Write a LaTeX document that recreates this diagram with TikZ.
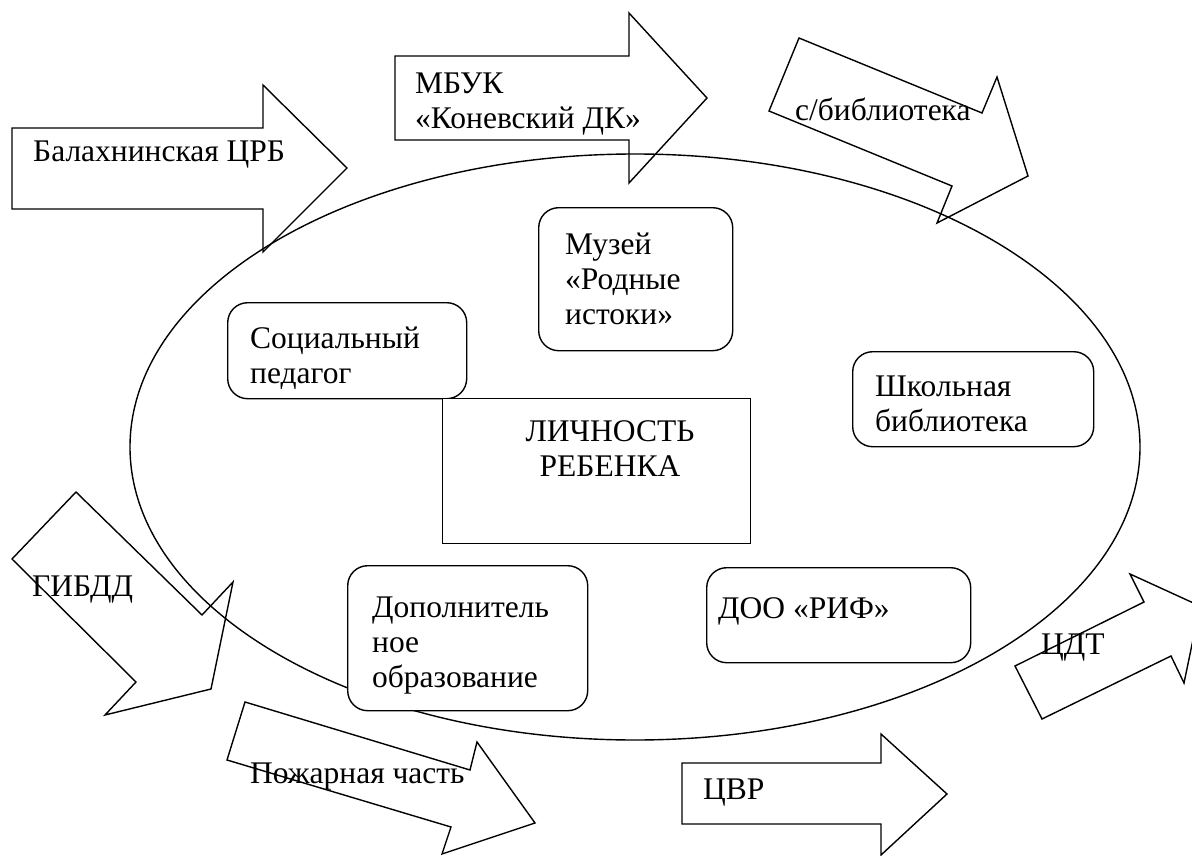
\documentclass[tikz,border=0pt]{standalone}
\usepackage{fontspec}
\setmainfont{Liberation Serif}
\tikzset{
  arr/.style={draw=black, line width=1.4pt, line join=miter},
  oval/.style={draw=black, line width=1.4pt},
  rbox/.style={draw=black, fill=white, line width=1.4pt, rounded corners=20pt, inner sep=0pt, anchor=north west},
  sbox/.style={draw=black, fill=white, line width=1.4pt, inner sep=0pt, anchor=north west},
  lbl/.style={inner sep=0pt, font=\fontsize{31.5}{35}\selectfont, align=left, anchor=base west},
  clbl/.style={inner sep=0pt, font=\fontsize{31.5}{35}\selectfont, align=center, anchor=base},
}
\begin{document}
\begin{tikzpicture}[x=1pt,y=-1pt]
\clip (0,0) rectangle (1192,856);
\fill[white] (0,0) rectangle (1192,856);
% ellipse
\draw[oval] (635,447) ellipse [x radius=505, y radius=293];
% arrows
\draw[arr] (12,128) -- (263,128) -- (263,85) -- (347,168) -- (263,252) -- (263,209) -- (12,209) -- cycle;
\draw[arr] (395,56) -- (629,56) -- (629,13) -- (707,98) -- (629,183) -- (629,140) -- (395,140) -- cycle;
\draw[arr] (799,38) -- (982,113) -- (997,77) -- (1028,176) -- (937,223) -- (952,186) -- (769,111) -- cycle;
\draw[arr] (76,492) -- (202,615) -- (233,582) -- (211,689) -- (105,715) -- (136,682) -- (12,559) -- cycle;
\draw[arr] (245,702) -- (470,770) -- (477,742) -- (535,823) -- (442,854) -- (451,827) -- (227,760) -- cycle;
\draw[arr] (682,763) -- (881,763) -- (881,734) -- (947,794) -- (881,855) -- (881,824) -- (682,824) -- cycle;
\draw[arr] (1015,666) -- (1144,602) -- (1130,574) -- (1200,606) -- (1184,683) -- (1171,656) -- (1042,719) -- cycle;
% boxes
\node[rbox, minimum width=194pt, minimum height=143pt] (muzbox) at (538,207) {};
\node[rbox, minimum width=239pt, minimum height=96pt] (socbox) at (227,302) {};
\node[sbox, minimum width=308pt, minimum height=145pt] (lichbox) at (442,398) {};
\node[rbox, minimum width=241pt, minimum height=95pt] (shkbox) at (852,351) {};
\node[rbox, minimum width=240pt, minimum height=145pt] (dopbox) at (347,565) {};
\node[rbox, minimum width=264pt, minimum height=95pt] (doobox) at (706,567) {};
% labels (multi-line: anchor at baseline of the last line)
\node[lbl] (t1) at (33,162) {Балахнинская ЦРБ};
\node[lbl] (t2) at (415,129) {МБУК\\«Коневский ДК»};
\node[lbl] (t3) at (795,121) {с/библиотека};
\node[lbl] (t4) at (565,324) {Музей\\«Родные\\истоки»};
\node[lbl] (t5) at (250,383) {Социальный\\педагог};
\node[clbl] (t6) at (610,476) {ЛИЧНОСТЬ\\РЕБЕНКА};
\node[lbl] (t7) at (875,431) {Школьная\\библиотека};
\node[lbl] (t8) at (372,687) {Дополнитель\\ное\\образование};
\node[lbl] (t9) at (718,618) {ДОО «РИФ»};
\node[lbl] (t10) at (32,596) {ГИБДД};
\node[lbl] (t11) at (250,783) {Пожарная часть};
\node[lbl] (t12) at (703,799) {ЦВР};
\node[lbl] (t13) at (1041,654) {ЦДТ};
\end{tikzpicture}
\end{document}
